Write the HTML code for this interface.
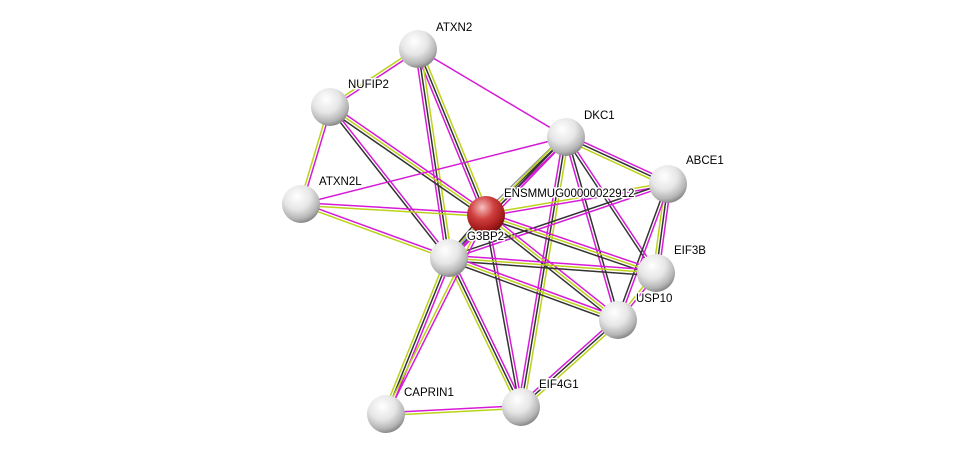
<!DOCTYPE html>
<html><head><meta charset="utf-8"><style>
body{margin:0;background:#fff;width:976px;height:460px;overflow:hidden}
svg{display:block}
text{font-family:"Liberation Sans",sans-serif;font-size:11.5px;fill:#000;stroke:#fff;stroke-width:3px;paint-order:stroke;stroke-linejoin:round}
</style></head><body>
<svg id="s" width="976" height="460" xmlns="http://www.w3.org/2000/svg">
<defs>
<radialGradient id="g" cx="40%" cy="30%" r="70%">
<stop offset="0" stop-color="#ffffff"/><stop offset="0.5" stop-color="#e6e6e6"/><stop offset="0.85" stop-color="#b4b4b4"/><stop offset="1" stop-color="#8a8a8a"/></radialGradient>
<radialGradient id="r" cx="40%" cy="30%" r="70%">
<stop offset="0" stop-color="#f6c0c0"/><stop offset="0.45" stop-color="#d04040"/><stop offset="0.85" stop-color="#a01818"/><stop offset="1" stop-color="#701010"/></radialGradient>
</defs>
<g id="edges"></g>
<g id="nodes"></g>
</svg>
<script>
var N={ATXN2:[418,49],NUFIP2:[330,107],DKC1:[566,137],ABCE1:[668,184],ATXN2L:[301,204],ENS:[486,215],G3:[449,258],EIF3B:[656,273],USP10:[618,320],CAPRIN1:[386,414],EIF4G1:[521,407]};
var M="#d61bd6",Y="#bcd21a",K="#333";
var E=[["ATXN2","NUFIP2",[M,Y]],["ATXN2","ENS",[Y,K,M]],["ATXN2","G3",[Y,K,M]],["ATXN2","DKC1",[M]],
["NUFIP2","ATXN2L",[M,Y]],["NUFIP2","ENS",[M,Y,K]],["NUFIP2","G3",[M,K]],
["ATXN2L","ENS",[M,Y]],["ATXN2L","G3",[M,Y]],["ATXN2L","DKC1",[M]],
["DKC1","ENS",[M,K,"#999"]],["DKC1","ABCE1",[M,K,Y]],["DKC1","G3",[M,K,Y]],["DKC1","EIF3B",[M,K]],["DKC1","USP10",[K,M]],["DKC1","EIF4G1",[Y,K,M]],
["ABCE1","ENS",[M,Y]],["ABCE1","G3",[M,K]],["ABCE1","EIF3B",[M,K,Y]],["ABCE1","USP10",[M,K]],
["ENS","G3",[M,"#99f",K]],["ENS","EIF3B",[M,Y,K]],["ENS","USP10",[M,Y,K]],["ENS","EIF4G1",[M,K]],
["G3","EIF3B",[M,Y,K]],["G3","USP10",[M,Y,K]],["G3","CAPRIN1",[M,K,Y]],["G3","EIF4G1",[M,K,Y]],
["EIF3B","USP10",[M,Y]],["USP10","EIF4G1",[Y,K,M]],["CAPRIN1","EIF4G1",[M,Y]],["ENS","CAPRIN1",[M,Y]]];
var ns="http://www.w3.org/2000/svg",eg=document.getElementById("edges"),ng=document.getElementById("nodes");
E.forEach(function(e){var a=N[e[0]],b=N[e[1]],dx=b[0]-a[0],dy=b[1]-a[1],L=Math.hypot(dx,dy),px=-dy/L,py=dx/L,n=e[2].length;
e[2].forEach(function(c,i){var o=(i-(n-1)/2)*2.8,l=document.createElementNS(ns,"line");
l.setAttribute("x1",a[0]+px*o);l.setAttribute("y1",a[1]+py*o);l.setAttribute("x2",b[0]+px*o);l.setAttribute("y2",b[1]+py*o);
l.setAttribute("stroke",c);l.setAttribute("stroke-width","1.5");eg.appendChild(l);});});
var lab={ATXN2:["ATXN2",436,31],NUFIP2:["NUFIP2",348,88],DKC1:["DKC1",584,119],ABCE1:["ABCE1",686,164],ATXN2L:["ATXN2L",319,185],ENS:["ENSMMUG00000022912",504,197],G3:["G3BP2",467,240],EIF3B:["EIF3B",674,254],USP10:["USP10",636,302],CAPRIN1:["CAPRIN1",404,396],EIF4G1:["EIF4G1",539,388]};
for(var k in N){var p=N[k],c=document.createElementNS(ns,"circle");
c.setAttribute("cx",p[0]);c.setAttribute("cy",p[1]);c.setAttribute("r",19);c.setAttribute("fill",k=="ENS"?"url(#r)":"url(#g)");ng.appendChild(c);}
for(var k in N){var t=document.createElementNS(ns,"text");t.setAttribute("x",lab[k][1]);t.setAttribute("y",lab[k][2]);t.textContent=lab[k][0];ng.appendChild(t);}
</script>
</body></html>
